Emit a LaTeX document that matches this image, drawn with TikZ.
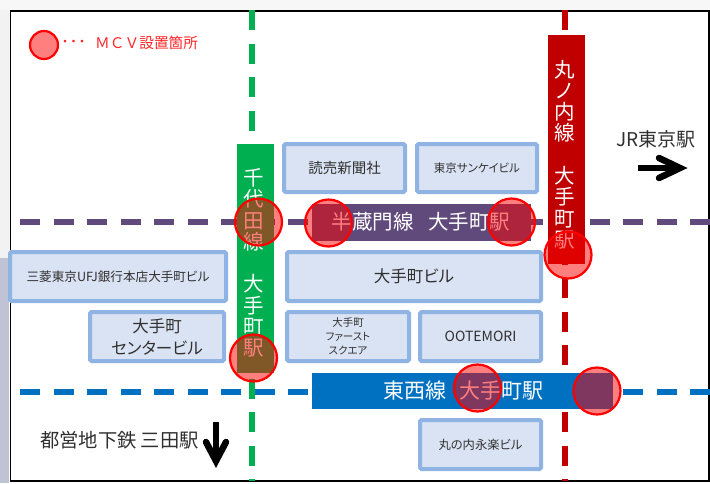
\documentclass[tikz,border=0pt]{standalone}
\usepackage{fontspec}
\setmainfont{Noto Sans CJK JP}
\newfontfamily\paltfont[RawFeature=+palt]{Noto Sans CJK JP}
\newcommand{\fsz}[1]{\fontsize{#1}{#1}\selectfont}
\definecolor{greenline}{HTML}{00B050}
\definecolor{redline}{HTML}{C00000}
\definecolor{purpleline}{HTML}{604A7B}
\definecolor{blueline}{HTML}{0070C0}
\definecolor{bfill}{HTML}{DAE3F3}
\definecolor{bdraw}{HTML}{8FB4E3}
\definecolor{ink}{HTML}{303030}
\definecolor{sideshade}{HTML}{BFC3D3}
\tikzset{
  railline/.style={line width=5.5pt,dash pattern=on 20pt off 13.5pt},
  stationbox/.style={inner sep=0pt,outer sep=0pt,draw=none},
  stationtext/.style={text=white,inner sep=0pt,align=center,font=\fsz{20.5},execute at begin node={\baselineskip=21.3pt}},
  bldg/.style={draw=bdraw,fill=bfill,line width=4pt,rounded corners=1.5pt,inner sep=0pt,outer sep=0pt,text=ink,align=center,execute at begin node={\paltfont}},
  mcv/.style={circle,draw=red,line width=2.2pt,fill=red,fill opacity=0.5,draw opacity=1,minimum size=47pt,inner sep=0pt},
  bigarrow/.style={line width=6.5pt,draw=black},
}
\begin{document}
\begin{tikzpicture}[x=1pt,y=-1pt]
\useasboundingbox (0,0) rectangle (710,483);
\fill[white] (0,0) rectangle (710,483);
\fill[black!5] (0,0) rectangle (10,258);
\fill[black!3] (0,0) rectangle (710,10);
\fill[sideshade] (0,258) rectangle (9,483);
% frame
\draw[black,line width=1.6pt] (10.5,11) rectangle (709,481);
% free ends of the lines
\coordinate (blueL) at (20,392); \coordinate (blueR) at (710,392);
\coordinate (purpleL) at (20,222); \coordinate (purpleR) at (710,222);
\coordinate (greenT) at (252,10); \coordinate (greenB) at (252,481);
\coordinate (redT) at (565,10); \coordinate (redB) at (565,481);
\draw[railline,draw=blueline] (blueL) -- (blueR);
\draw[railline,draw=purpleline] (purpleL) -- (purpleR);
\draw[railline,draw=redline] (redT) -- (redB);
\draw[railline,draw=greenline] (greenT) -- (greenB);
% station boxes
\node[stationbox,fill=greenline,minimum width=37pt,minimum height=229pt] (chiyodaBox) at (255.5,258.5) {};
\node[stationbox,fill=redline,minimum width=37pt,minimum height=229pt] (marunouchiBox) at (566.5,149.5) {};
\node[stationbox,fill=purpleline,minimum width=219pt,minimum height=37pt] (hanzomonBox) at (421,222.5) {};
\node[stationbox,fill=blueline,minimum width=301pt,minimum height=36pt] (tozaiBox) at (462.5,391) {};
\node[stationtext] (chiyodaText) at (253.5,263) {千\\代\\田\\線\\~\\大\\手\\町\\駅};
\node[stationtext] (marunouchiText) at (564.5,154.5) {丸\\ノ\\内\\線\\~\\大\\手\\町\\駅};
\node[text=white,inner sep=0pt,font=\fsz{20.5}] (hanzomonText) at (421,222) {半蔵門線\hspace{15pt}大手町駅};
\node[text=white,inner sep=0pt,font=\fsz{21}] (tozaiText) at (463,391) {東西線\hspace{13pt}大手町駅};
% buildings
\node[bldg,minimum width=121pt,minimum height=48pt,font=\fsz{14.5}] (yomiuri) at (344.5,168) {読売新聞社};
\node[bldg,minimum width=120pt,minimum height=48pt,font=\fsz{11.5}] (sankei) at (477,168) {東京サンケイビル};
\node[bldg,minimum width=216pt,minimum height=49pt,font=\fsz{12.6}] (mufg) at (118,276.5) {三菱東京UFJ銀行本店大手町ビル};
\node[bldg,minimum width=254pt,minimum height=49pt,font=\fsz{16.5}] (otemachiBldg) at (414,276.5) {大手町ビル};
\node[bldg,minimum width=134pt,minimum height=49pt,font=\fsz{16.5},execute at begin node={\baselineskip=22pt}] (center) at (157,336.5) {大手町\\センタービル};
\node[bldg,minimum width=122pt,minimum height=49pt,font=\fsz{10.5},execute at begin node={\baselineskip=14pt}] (first) at (348,336.5) {大手町\\ファースト\\スクエア};
\node[bldg,minimum width=121pt,minimum height=49pt,font=\fsz{14}] (ootemori) at (480.5,336.5) {OOTEMORI};
\node[bldg,minimum width=121pt,minimum height=49pt,font=\fsz{12.3}] (eiraku) at (480.5,444.5) {丸の内永楽ビル};
% labels
\node[text=ink,inner sep=0pt,font=\fsz{19}] (jrText) at (656,139) {JR東京駅};
\node[text=ink,inner sep=0pt,font=\fsz{19.3}] (mitaText) at (119.5,440) {都営地下鉄 三田駅};
% arrows
\coordinate (rA) at (638,168); \coordinate (rB) at (680,168);
\draw[bigarrow] (rA) -- (rB);
\draw[bigarrow,line join=miter,line cap=round] (659,158) -- (rB) -- (659,178);
\coordinate (dA) at (216,422); \coordinate (dB) at (216,461);
\draw[bigarrow] (dA) -- (dB);
\draw[bigarrow,line join=miter,line cap=round] (206,442) -- (dB) -- (226,442);
% legend
\node[mcv,minimum size=28pt] (legendDot) at (44,45) {};
\node[text=red!85!white,inner sep=0pt,font=\fsz{13}] (dots) at (73.5,43) {・\kern-4.5pt・\kern-4.5pt・};
\node[text=red!85!white,inner sep=0pt,font=\fsz{14.7},anchor=west] (legendText) at (95,43) {ＭＣＶ設置箇所};
% MCV circles
\node[mcv] (c1) at (258.5,222) {};
\node[mcv] (c2) at (328.5,223) {};
\node[mcv] (c3) at (511.5,222) {};
\node[mcv] (c4) at (568,255) {};
\node[mcv] (c5) at (253.5,358) {};
\node[mcv] (c6) at (477.5,388) {};
\node[mcv] (c7) at (597,391) {};
\end{tikzpicture}
\end{document}
